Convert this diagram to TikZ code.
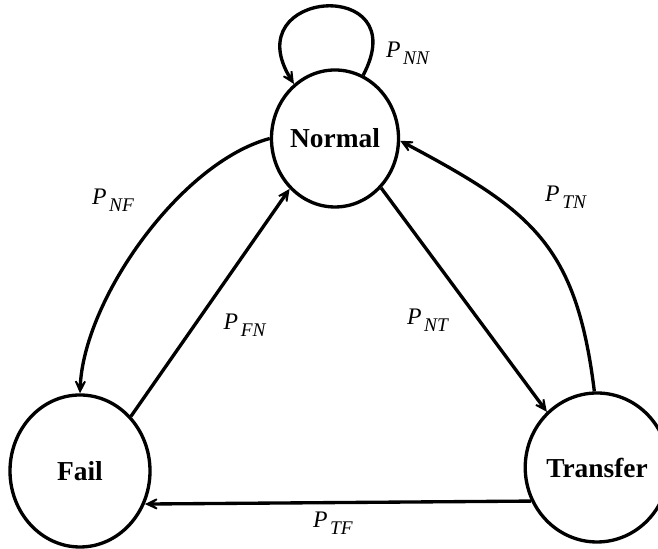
\documentclass[tikz,border=0pt]{standalone}
\usepackage{fontspec}
\setmainfont{Liberation Serif}
\usepackage{tikz}
\usetikzlibrary{arrows.meta,shapes.geometric}

% transition probability label, P with a lowered subscript
\newcommand{\ptrans}[1]{\textit{P}\kern1.5pt\raisebox{-4pt}{\fontsize{11}{12}\selectfont\textit{#1}}}

\begin{document}
\begin{tikzpicture}[
        state/.style={draw, ellipse, line width=1.9pt, inner sep=0pt, font=\fontsize{15.6}{18}\selectfont\bfseries},
        link/.style={line width=1.9pt, -{Stealth[length=4mm,width=3.8mm,inset=2.6mm]}},
        prob/.style={font=\fontsize{13.5}{15}\selectfont}
    ]
        \useasboundingbox (0,0) rectangle (13.16,10.98);

        % The three states
        \node[state, minimum width=2.52cm, minimum height=2.74cm] (normal) at (6.70,8.21) {Normal};
        \node[state, minimum width=2.80cm, minimum height=3.04cm] (fail) at (1.60,1.56) {Fail};
        \node[state, minimum width=2.80cm, minimum height=2.98cm] (transfer) at (11.94,1.63) {Transfer};

        % Self loop on Normal
        \draw[link] (normal.66) .. controls +(62:2.25) and +(122:2.25) .. (normal.127);
        \node[prob] (pnn) at (8.16,9.92) {\ptrans{NN}};

        % Normal <-> Fail
        \draw[link] (normal.180) to[out=195, in=88, looseness=0.75] (fail.90);
        \node[prob] (pnf) at (2.26,6.98) {\ptrans{NF}};
        \draw[link] (fail.47) -- (normal.228);
        \node[prob] (pfn) at (4.90,4.48) {\ptrans{FN}};

        % Normal <-> Transfer
        \draw[link] (normal.313) -- (transfer.132);
        \node[prob] (pnt) at (8.56,4.58) {\ptrans{NT}};
        \draw[link] (transfer.92) to[out=97, in=-28, looseness=1.2] (normal.-2);
        \node[prob] (ptn) at (11.32,7.04) {\ptrans{TN}};

        % Transfer -> Fail
        \draw[link] (transfer.207) -- (fail.333);
        \node[prob] (ptf) at (6.66,0.52) {\ptrans{TF}};

    \end{tikzpicture}
\end{document}
